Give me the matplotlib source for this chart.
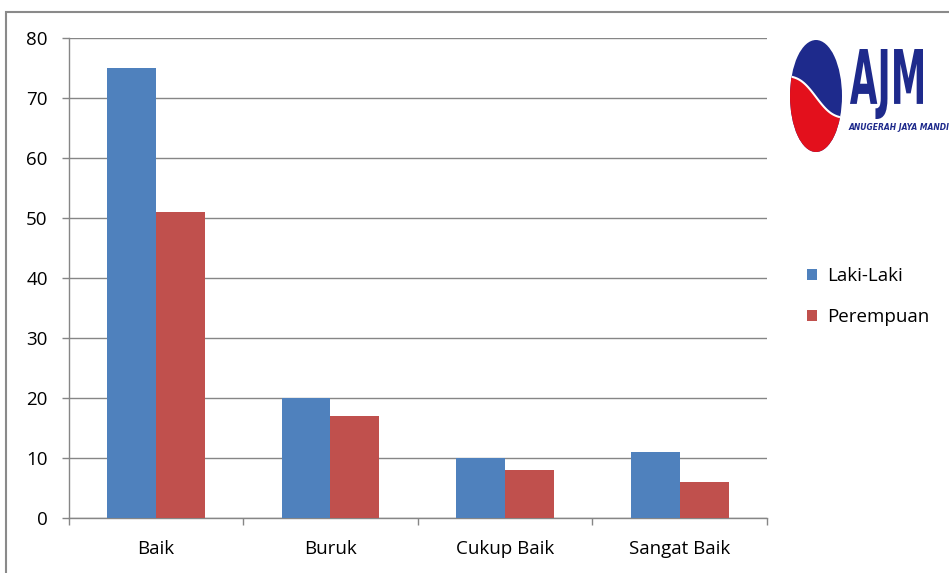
from matplotlib import pyplot as plt
from matplotlib.patches import Ellipse, Rectangle, PathPatch, Polygon
from matplotlib.textpath import TextPath
from matplotlib.font_manager import FontProperties
from matplotlib.transforms import Affine2D
import numpy as np

# data
categories = ['Baik', 'Buruk', 'Cukup Baik', 'Sangat Baik']
laki_laki = [75, 20, 10, 11]
perempuan = [51, 17, 8, 6]
series_names = ['Laki-Laki', 'Perempuan']
y_ticks = [0, 10, 20, 30, 40, 50, 60, 70, 80]

plt.rcParams['font.family'] = ['Open Sans', 'DejaVu Sans']

W, H = 949, 573
fig = plt.figure(figsize=(W / 100, H / 100), dpi=100)

# px helper -> figure fraction (x from left, y from top)
def fx(x):
    return x / W

def fy(y):
    return 1 - y / H

# outer frame of the embedded picture
fig.patches.append(Rectangle((fx(6), fy(H + 5)), fx(W + 10), fy(12) - fy(H + 5),
                             transform=fig.transFigure, fill=False,
                             edgecolor='#8a8a8a', linewidth=1.5))

ax = fig.add_axes([fx(68.5), fy(518), fx(767) - fx(68.5), fy(38) - fy(518)])

x = np.arange(len(categories))
w = 0.28
ax.bar(x - w / 2, laki_laki, w, color='#4F81BD', label=series_names[0], zorder=3)
ax.bar(x + w / 2, perempuan, w, color='#C0504D', label=series_names[1], zorder=3)

ax.set_xlim(-0.5, len(categories) - 0.5)
ax.set_ylim(0, 80)
ax.set_yticks(y_ticks)
ax.set_xticks(x)
ax.set_xticklabels(categories, fontsize=13.5)
ax.set_xticks(np.arange(len(categories) + 1) - 0.5, minor=True)
ax.tick_params(axis='x', which='major', length=0, pad=16)
ax.tick_params(axis='x', which='minor', length=5, color='#868686', width=1)
ax.tick_params(axis='y', length=5, color='#868686', width=1, labelsize=13.5, pad=10)

ax.grid(axis='y', color='#868686', linewidth=1, zorder=0)
for s in ['top', 'right']:
    ax.spines[s].set_visible(False)
for s in ['left', 'bottom']:
    ax.spines[s].set_color('#868686')
    ax.spines[s].set_linewidth(1)

leg = fig.legend(loc='upper left', bbox_to_anchor=(fx(790), fy(250)),
                 frameon=False, fontsize=13.5, handlelength=0.55, handleheight=0.55,
                 handletextpad=0.55, labelspacing=1.25)

# AJM logo
navy = '#1e2a8c'
red = '#e3101c'
cx, cy, ew, eh = 816, 96, 52, 112
ell = Ellipse((fx(cx), fy(cy)), fx(ew), eh / H, transform=fig.transFigure,
              facecolor=navy, edgecolor='none')
fig.patches.append(ell)
t = np.linspace(0, 1, 40)
wave_x = cx - ew / 2 - 2 + t * (ew + 4)
wave_y = 76 + 42 * t - 5 * np.sin(2 * np.pi * t)
pts = [(fx(a), fy(b)) for a, b in zip(wave_x, wave_y)]
pts += [(fx(cx + ew), fy(cy + eh)), (fx(cx - ew), fy(cy + eh))]
low = Polygon(pts, closed=True, transform=fig.transFigure,
              facecolor=red, edgecolor='none')
fig.patches.append(low)
low.set_clip_path(ell)
line = plt.Line2D([fx(a) for a in wave_x], [fy(b) for b in wave_y],
                  transform=fig.transFigure, color='white', linewidth=1.5)
fig.lines.append(line)
line.set_clip_path(ell)

tp = TextPath((0, 0), 'AJM', size=10, prop=FontProperties(family='DejaVu Sans', weight='bold'))
bb = tp.get_extents()
sx = (923 - 850) / bb.width
sy = (119 - 49) / bb.height
tr = Affine2D().translate(-bb.x0, -bb.y0).scale(sx / W, sy / H).translate(fx(850), fy(119))
fig.patches.append(PathPatch(tp, transform=tr + fig.transFigure,
                             facecolor=navy, edgecolor='none'))
fig.text(fx(849), fy(128), 'ANUGERAH JAYA MANDIRI', fontsize=5.5, weight='bold',
         style='italic', color=navy, family='DejaVu Sans', va='center')

plt.savefig('out.png', dpi=100)
